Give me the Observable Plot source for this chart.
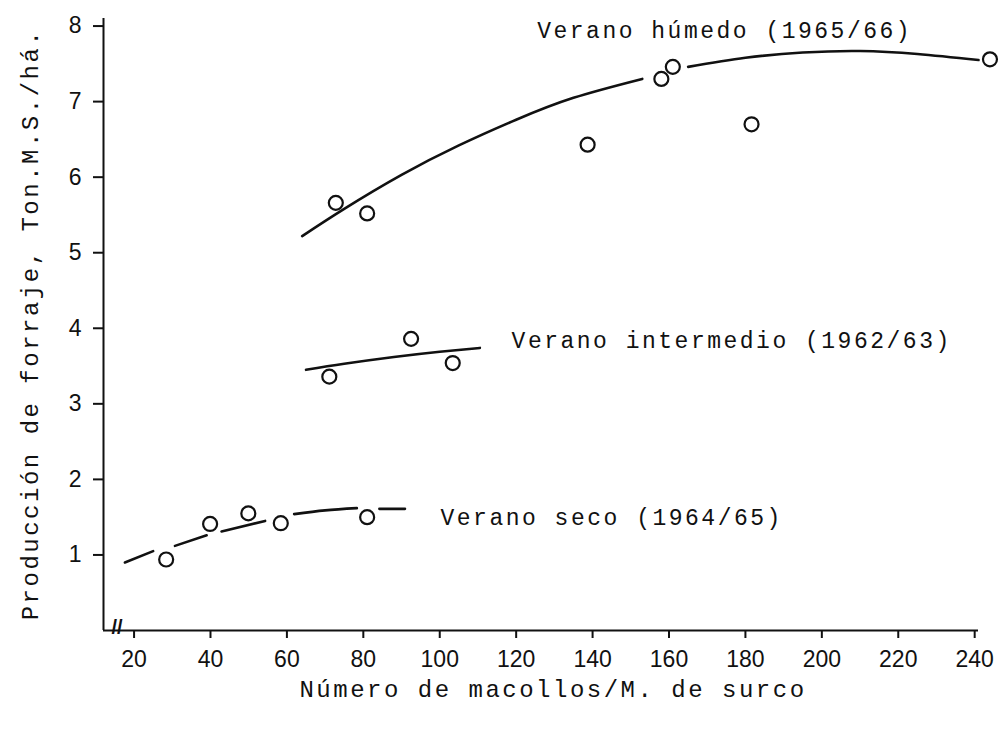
<!DOCTYPE html>
<html>
<head>
<meta charset="utf-8">
<script src="https://cdn.jsdelivr.net/npm/d3@7"></script>
<script src="https://cdn.jsdelivr.net/npm/@observablehq/plot@0.6"></script>
<style>
  html, body { margin: 0; padding: 0; background: #fff; }
  #chart svg { display: block; }
</style>
</head>
<body>
<div id="chart"></div>
<script>
// ---- Data ----
const xTicks = [20, 40, 60, 80, 100, 120, 140, 160, 180, 200, 220, 240];
const yTicks = [1, 2, 3, 4, 5, 6, 7, 8];

// Observed points (macollos/M, Ton M.S./há)
const humedoX = [72.8, 81.0, 138.7, 158.0, 161.0, 181.6, 244.0];
const humedoY = [5.66, 5.52, 6.43, 7.30, 7.46, 6.70, 7.56];

const intermedioX = [71.1, 92.5, 103.4];
const intermedioY = [3.36, 3.86, 3.54];

const secoX = [28.4, 39.9, 49.9, 58.4, 81.0];
const secoY = [0.94, 1.41, 1.55, 1.42, 1.50];

// Hand-drawn curves (segment id, x, y)
const humedoCurveSeg = [1, 1, 1, 1, 1, 1, 1, 2, 2, 2, 2, 2, 2];
const humedoCurveX = [64, 75, 90, 105, 120, 135, 153, 165, 180, 195, 210, 225, 241];
const humedoCurveY = [5.22, 5.58, 6.03, 6.42, 6.76, 7.05, 7.30, 7.46, 7.58, 7.65, 7.67, 7.63, 7.55];

const intermedioCurveX = [65, 75, 88, 100, 110.5];
const intermedioCurveY = [3.45, 3.53, 3.62, 3.69, 3.74];

const secoCurveSeg = [1, 1, 2, 2, 3, 3, 4, 4, 4, 5, 5];
const secoCurveX = [17.6, 25.0, 30.7, 39.0, 42.9, 54.3, 61.9, 70.0, 78.3, 84.2, 90.9];
const secoCurveY = [0.90, 1.05, 1.12, 1.26, 1.31, 1.45, 1.54, 1.59, 1.62, 1.61, 1.61];

const seriesLabels = ["Verano húmedo (1965/66)", "Verano intermedio (1962/63)", "Verano seco (1964/65)"];
const labelX = [125.5, 118.8, 100.2];
const labelY = [7.94, 3.84, 1.49];

const xTitle = "Número de macollos/M. de surco";
const yTitle = "Producción de forraje, Ton.M.S./há.";

// ---- Build tables ----
const points = [
  ...humedoX.map((x, i) => ({x, y: humedoY[i]})),
  ...intermedioX.map((x, i) => ({x, y: intermedioY[i]})),
  ...secoX.map((x, i) => ({x, y: secoY[i]}))
];
const curves = [
  ...humedoCurveX.map((x, i) => ({x, y: humedoCurveY[i], z: "h" + humedoCurveSeg[i]})),
  ...intermedioCurveX.map((x, i) => ({x, y: intermedioCurveY[i], z: "i"})),
  ...secoCurveX.map((x, i) => ({x, y: secoCurveY[i], z: "s" + secoCurveSeg[i]}))
];
const labels = seriesLabels.map((t, i) => ({t, x: labelX[i], y: labelY[i]}));

const mono = "'Liberation Mono', 'DejaVu Sans Mono', monospace";
const sans = "'Liberation Sans', 'DejaVu Sans', sans-serif";

const chart = Plot.plot({
  width: 1005,
  height: 730,
  marginLeft: 103,
  marginRight: 27,
  marginTop: 18,
  marginBottom: 100,
  style: {background: "#fff", color: "#111"},
  x: {domain: [12, 241], axis: null},
  y: {domain: [0, 8.1], axis: null},
  marks: [
    // axis lines
    Plot.ruleX([12], {stroke: "#111", strokeWidth: 2}),
    Plot.ruleY([0], {stroke: "#111", strokeWidth: 2}),
    Plot.axisX({
      ticks: xTicks, tickSize: 8, tickPadding: 12, tickFormat: d => d,
      fontSize: 23, fontFamily: sans, stroke: "#111", strokeWidth: 2, label: null
    }),
    Plot.axisY({
      ticks: yTicks, tickSize: 10, tickPadding: 12, tickFormat: d => d,
      fontSize: 23, fontFamily: sans, stroke: "#111", strokeWidth: 2, label: null
    }),
    // axis break mark
    Plot.text(["//"], {frameAnchor: "bottom-left", dx: 8, dy: 3, fontSize: 20, fontFamily: sans, fontWeight: "bold", fill: "#111"}),
    // curves
    Plot.line(curves, {x: "x", y: "y", z: "z", stroke: "#111", strokeWidth: 2.6, curve: "natural"}),
    // observations
    Plot.dot(points, {x: "x", y: "y", r: 7, stroke: "#111", strokeWidth: 2.2, fill: "none"}),
    // series labels
    Plot.text(labels, {x: "x", y: "y", text: "t", textAnchor: "start", fontSize: 23, fontFamily: mono, fill: "#111"}),
    // axis titles
    Plot.text([xTitle], {frameAnchor: "bottom", textAnchor: "middle", dx: 12, dy: 66, fontSize: 24, fontFamily: mono, fill: "#111"}),
    Plot.text([yTitle], {frameAnchor: "left", textAnchor: "middle", dx: -73, rotate: -90, fontSize: 24, fontFamily: mono, fill: "#111"})
  ]
});
chart.querySelectorAll("g[font-family]").forEach(g => {
  if (g.getAttribute("font-family") === mono) g.style.letterSpacing = "2.5px";
});
document.getElementById("chart").append(chart);
</script>
</body>
</html>
